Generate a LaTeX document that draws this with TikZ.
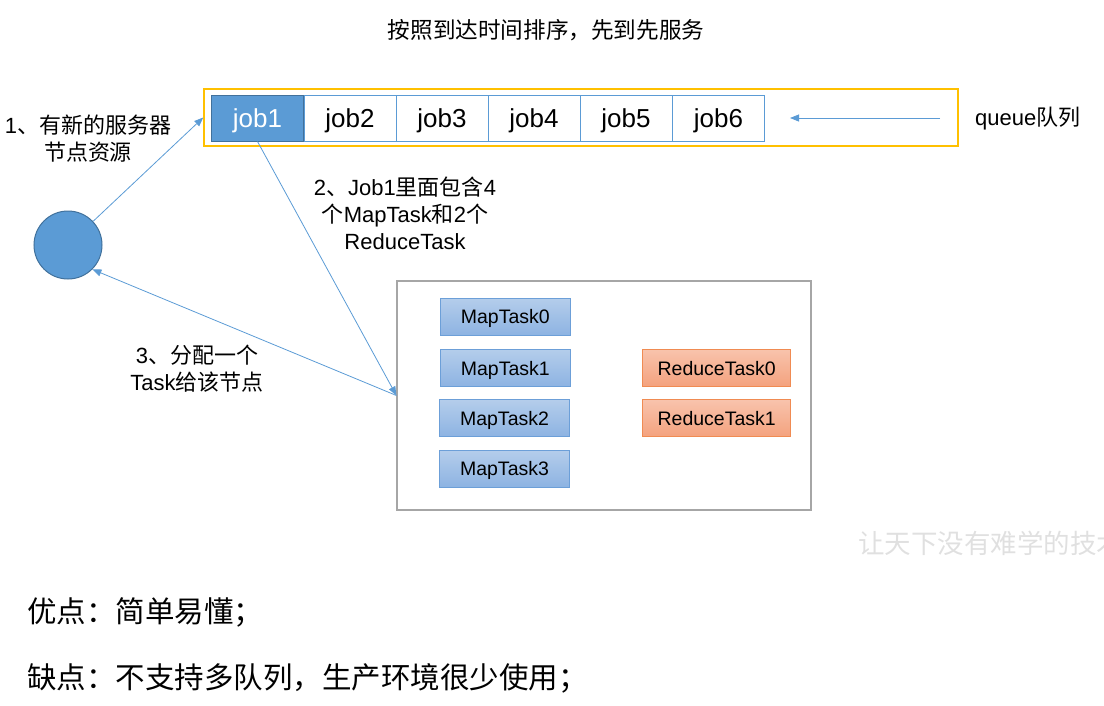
\documentclass[tikz,border=0pt]{standalone}
\usepackage{fontspec}
\setmainfont{Liberation Sans}
\newfontfamily\cjk{Noto Sans CJK SC}
\newcommand\zh[1]{{\cjk #1}}
\usetikzlibrary{arrows.meta}
\definecolor{jblue}{HTML}{5B9BD5}
\definecolor{jdark}{HTML}{41719C}
\definecolor{qyellow}{HTML}{FFC000}
\definecolor{cgray}{HTML}{A6A6A6}
\definecolor{mtop}{HTML}{B4CDEB}
\definecolor{mbot}{HTML}{8DB3E2}
\definecolor{mline}{HTML}{6C9FD8}
\definecolor{rtop}{HTML}{F8C3AC}
\definecolor{rbot}{HTML}{F4A27E}
\definecolor{rline}{HTML}{F08B52}
\begin{document}
\begin{tikzpicture}[x=1pt,y=-1pt,
  jobbox/.style={draw=jblue, line width=1pt, fill=white, minimum width=92pt, minimum height=46pt, inner sep=0pt, text depth=0pt, font=\fontsize{26}{30}\selectfont},
  mapbox/.style={draw=mline, line width=0.8pt, top color=mtop, bottom color=mbot, minimum width=130pt, minimum height=37pt, inner sep=0pt, text depth=0pt, font=\fontsize{19.5}{23}\selectfont},
  redbox/.style={draw=rline, line width=0.8pt, top color=rtop, bottom color=rbot, minimum width=148pt, minimum height=37pt, inner sep=0pt, text depth=0pt, font=\fontsize{19.5}{23}\selectfont},
  lbl/.style={align=center, inner sep=0pt, font=\fontsize{22}{27}\selectfont},
  arr/.style={draw=jblue, line width=0.8pt, -{Triangle[length=9pt,width=7pt]}}
]
\useasboundingbox (0,0) rectangle (1104,705);
% title
\node[lbl, font=\fontsize{22.6}{27}\selectfont] (title) at (546,30) {\zh{按照到达时间排序，先到先服务}};
% queue
\node[draw=qyellow, line width=1.5pt, minimum width=754pt, minimum height=57pt, inner sep=0pt] (queue) at (581,117.5) {};
\node[jobbox, draw=jdark, fill=jblue, text=white] (job1) at (257.5,118) {job1};
\node[jobbox] (job2) at (350,118) {job2};
\node[jobbox] (job3) at (442,118) {job3};
\node[jobbox] (job4) at (534,118) {job4};
\node[jobbox] (job5) at (626,118) {job5};
\node[jobbox] (job6) at (718.5,118) {job6};
\coordinate (qs) at (940,118);
\coordinate (qe) at (790,118);
\draw[arr] (qs) -- (qe);
\node[lbl, anchor=west] (qlabel) at (975,119) {queue\zh{队列}};
% server node
\node[circle, draw=jdark, fill=jblue, line width=1pt, minimum size=68pt, inner sep=0pt] (srv) at (68,245) {};
\node[lbl] (l1) at (88,138.5) {1\zh{、有新的服务器}\\\zh{节点资源}};
% container
\node[draw=cgray, line width=1.2pt, minimum width=414pt, minimum height=229pt, inner sep=0pt] (cont) at (604,395.5) {};
\node[mapbox] (m0) at (505.3,316.8) {MapTask0};
\node[mapbox] (m1) at (505.3,368) {MapTask1};
\node[mapbox] (m2) at (504.5,418.3) {MapTask2};
\node[mapbox] (m3) at (504.5,468.7) {MapTask3};
\node[redbox] (r0) at (716.7,368) {ReduceTask0};
\node[redbox] (r1) at (716.7,418.3) {ReduceTask1};
% labels
\node[lbl] (l2) at (405,213) {2\zh{、}Job1\zh{里面包含}4\\\zh{个}MapTask\zh{和}2\zh{个}\\ReduceTask};
\node[lbl] (l3) at (197,368.5) {3\zh{、分配一个}\\Task\zh{给该节点}};
% arrows
\draw[arr] (srv) -- (queue.west);
\draw[arr] (job1.south) -- (cont.west);
\draw[arr] (cont.west) -- (srv.-45);
% watermark
\node[anchor=west, inner sep=0pt, text=black!12, font=\fontsize{26.5}{30}\selectfont] (wm) at (858,543) {\zh{让天下没有难学的技术}};
% bottom texts
\node[anchor=west, inner sep=0pt, font=\fontsize{29.5}{34}\selectfont] (pro) at (27,612) {\zh{优点：简单易懂；}};
\node[anchor=west, inner sep=0pt, font=\fontsize{29.5}{34}\selectfont] (con) at (27,678) {\zh{缺点：不支持多队列，生产环境很少使用；}};
\end{tikzpicture}
\end{document}
